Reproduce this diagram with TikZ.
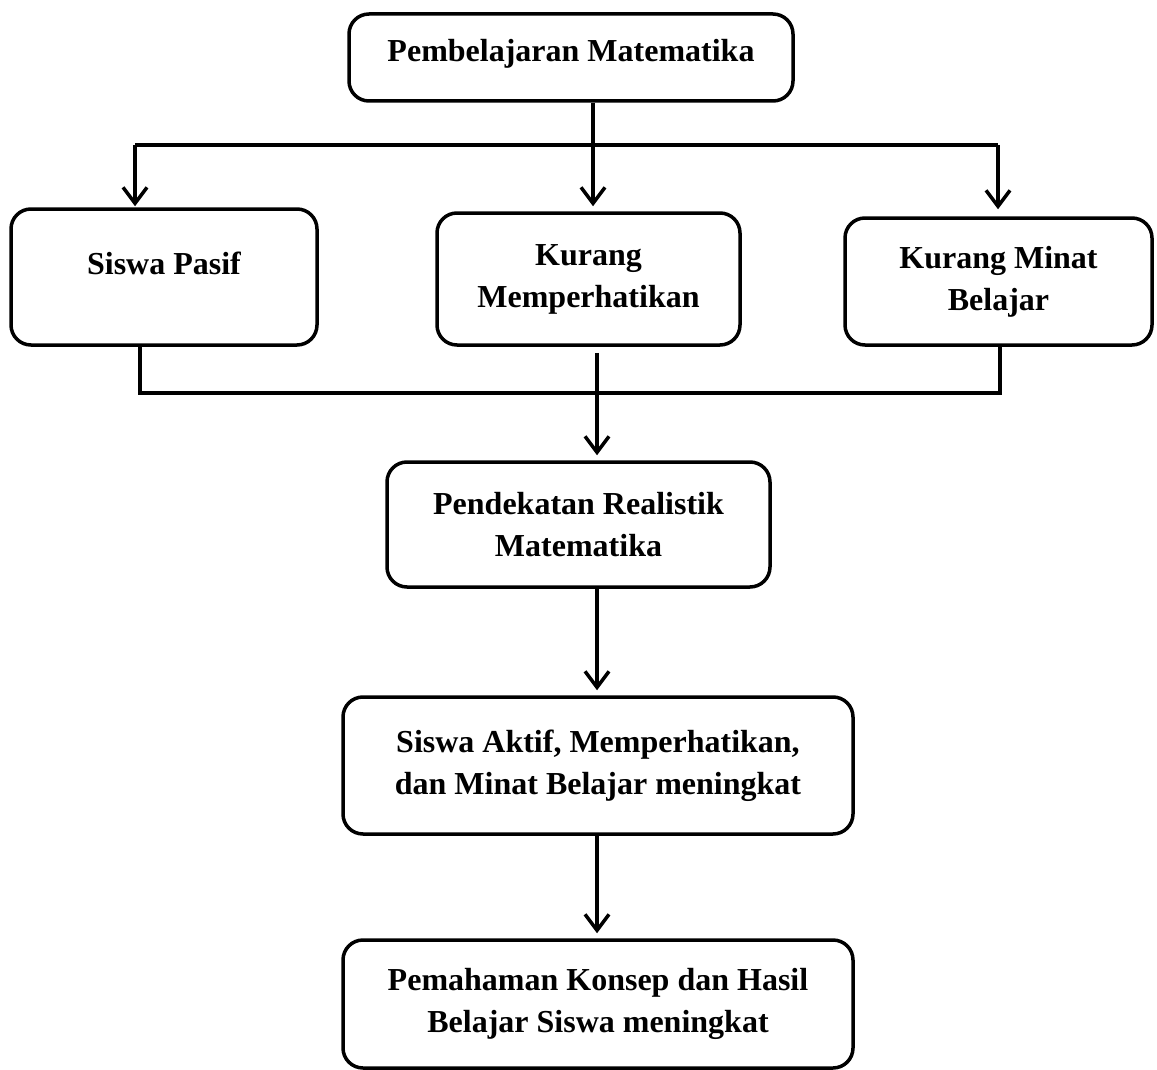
\documentclass[tikz,border=0pt]{standalone}
\usepackage{fontspec}
\setmainfont{Liberation Serif}
\usetikzlibrary{arrows.meta}
\tikzset{
    kotak/.style={draw, line width=3.5pt, rounded corners=20pt, align=center,
        inner sep=0pt, font=\fontsize{32}{42}\selectfont\bfseries},
    panah/.style={line width=3.5pt, -{Straight Barb[length=16pt,width=24pt,line width=3.5pt]}},
    garis/.style={line width=3.5pt}
}

\begin{document}
\begin{tikzpicture}[x=1pt,y=-1pt]
	    \useasboundingbox (0,0) rectangle (1157,1070);
	    \node[kotak, minimum width=444pt, minimum height=87pt, text depth=14pt] (top) at (571,57.5) {Pembelajaran Matematika};
	    \node[kotak, minimum width=306pt, minimum height=136pt, text depth=27pt] (pasif) at (164,277) {Siswa Pasif};
	    \node[kotak, minimum width=303pt, minimum height=132pt] (perhatian) at (588.5,279) {Kurang\\Memperhatikan};
	    \node[kotak, minimum width=307pt, minimum height=127pt] (minat) at (998.5,281.5) {Kurang Minat\\Belajar};
	    \node[kotak, minimum width=383pt, minimum height=125pt] (pendekatan) at (578.5,524.5) {Pendekatan Realistik\\Matematika};
	    \node[kotak, minimum width=510pt, minimum height=137pt] (aktif) at (598,765.5) {Siswa Aktif, Memperhatikan,\\dan Minat Belajar meningkat};
	    \node[kotak, minimum width=510pt, minimum height=128pt] (paham) at (598,1004) {Pemahaman Konsep dan Hasil\\Belajar Siswa meningkat};
	    \coordinate (split) at (593,145);
	    \coordinate (splitL) at (135,145);
	    \coordinate (splitR) at (998,145);
	    \coordinate (joinL) at (140,393);
	    \coordinate (joinM) at (597,393);
	    \coordinate (joinR) at (1000,393);
	    \draw[panah, shorten >=5pt] (top.south -| split) -- (perhatian.north -| split);
	    \draw[garis] (splitL) -- (splitR);
	    \draw[panah, shorten >=1pt] (splitL) -- (pasif.north -| splitL);
	    \draw[panah, shorten >=7pt] (splitR) -- (minat.north -| splitR);
	    \draw[garis] (pasif.south -| joinL) -- (joinL) -- (joinR) -- (minat.south -| joinR);
	    \draw[panah, shorten <=6pt, shorten >=5pt] (perhatian.south -| joinM) -- (pendekatan.north -| joinM);
	    \draw[panah, shorten >=5pt] (pendekatan.south -| joinM) -- (aktif.north -| joinM);
	    \draw[panah, shorten >=5pt] (aktif.south -| joinM) -- (paham.north -| joinM);
	\end{tikzpicture}
\end{document}
